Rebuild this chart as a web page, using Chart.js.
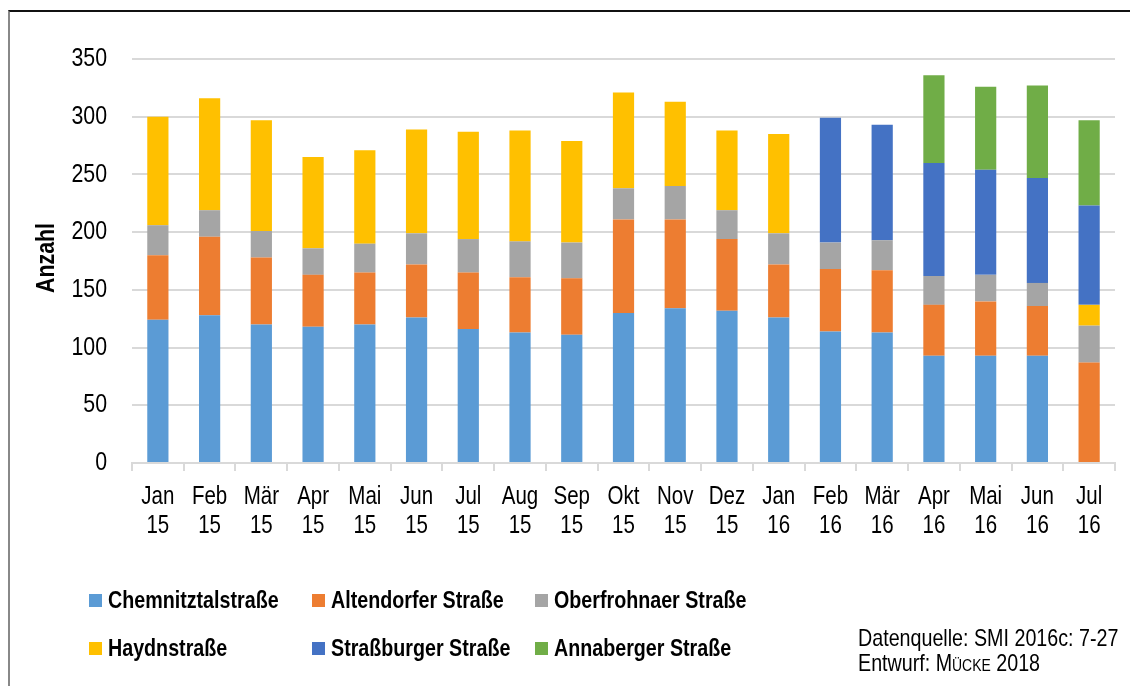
<!DOCTYPE html>
<html>
<head>
<meta charset="utf-8">
<script src="https://cdn.jsdelivr.net/npm/chart.js@4.4.1/dist/chart.umd.min.js"></script>
<style>
  html, body { margin: 0; padding: 0; background: #fff; }
  #wrap { position: relative; width: 1130px; height: 686px; overflow: hidden; font-family: 'Liberation Sans', Arial, sans-serif; }
  #c { position: absolute; left: 0; top: 0; }
  #frame { position: absolute; left: 8px; top: 10px; width: 1130px; height: 690px; border-top: 2px solid #111; border-left: 2px solid #888; box-sizing: border-box; pointer-events: none; }
  .leg { position: absolute; font-weight: bold; font-size: 24px; color: #000; line-height: 28px; white-space: nowrap; }
  .leg .box { position: absolute; left: 0; top: 8px; width: 13px; height: 13px; }
  .leg .txt { position: absolute; left: 19px; top: 0; transform: scaleX(0.82); transform-origin: 0 50%; }
  .src { position: absolute; left: 858px; font-size: 24px; color: #000; line-height: 25px; white-space: nowrap; transform: scaleX(0.82); transform-origin: 0 50%; }
</style>
</head>
<body>
<div id="wrap">
  <canvas id="c" width="1130" height="686"></canvas>
  <div id="frame"></div>
  <div id="legend"></div>
  <div class="src" style="top:625px">Datenquelle: SMI 2016c: 7-27</div>
  <div class="src" style="top:650px">Entwurf: M<span style="font-variant: small-caps">ücke</span> 2018</div>
</div>
<script>
const months = ['Jan','Feb','Mär','Apr','Mai','Jun','Jul','Aug','Sep','Okt','Nov','Dez','Jan','Feb','Mär','Apr','Mai','Jun','Jul'];
const years  = ['15','15','15','15','15','15','15','15','15','15','15','15','16','16','16','16','16','16','16'];

const chemnitztal  = [124,128,120,118,120,126,116,113,111,130,134,132,126,114,113,93,93,93,null];
const altendorfer  = [56,68,58,45,45,46,49,48,49,81,77,62,46,54,54,44,47,43,87];
const oberfrohnaer = [26,23,23,23,25,27,29,31,31,27,29,25,27,23,26,25,23,20,32];
const haydn        = [94,97,96,79,81,90,93,96,88,83,73,69,86,null,null,null,null,null,18];
const strassburger = [null,null,null,null,null,null,null,null,null,null,null,null,null,108,100,98,91,91,86];
const annaberger   = [null,null,null,null,null,null,null,null,null,null,null,null,null,null,null,76,72,80,74];

const seriesNames  = ['Chemnitztalstraße','Altendorfer Straße','Oberfrohnaer Straße','Haydnstraße','Straßburger Straße','Annaberger Straße'];
const seriesColors = ['#5B9BD5','#ED7D31','#A5A5A5','#FFC000','#4472C4','#70AD47'];
const seriesData   = [chemnitztal, altendorfer, oberfrohnaer, haydn, strassburger, annaberger];

const yTicks = [0,50,100,150,200,250,300,350];
const yTitle = 'Anzahl';

const FONT = "'Liberation Sans', Arial, sans-serif";
const NARROW = 0.82;
const labels = months.map((m, i) => [m, years[i]]);

const datasets = seriesNames.map((n, i) => ({
  label: n,
  data: seriesData[i],
  backgroundColor: seriesColors[i],
  borderWidth: 0,
  barPercentage: 0.41,
  categoryPercentage: 1.0
}));

// Draws axis texts in a condensed (Arial-Narrow-like) style using the chart's own scales
const narrowText = {
  id: 'narrowText',
  afterDraw(chart) {
    const ctx = chart.ctx;
    const xs = chart.scales.x, ys = chart.scales.y;
    ctx.save();
    ctx.fillStyle = '#000';
    // x labels
    ctx.font = '25px ' + FONT;
    ctx.textAlign = 'center';
    ctx.textBaseline = 'middle';
    const xl = xs.getLabels();
    xs.ticks.forEach((t, i) => {
      const x = xs.getPixelForTick(i);
      const lines = xl[t.value];
      lines.forEach((ln, k) => {
        ctx.save();
        ctx.translate(x, xs.top + 34 + k * 29);
        ctx.scale(NARROW, 1);
        ctx.fillText(ln, 0, 0);
        ctx.restore();
      });
    });
    // y labels
    ctx.font = '26px ' + FONT;
    ctx.textAlign = 'right';
    ys.ticks.forEach(t => {
      const y = ys.getPixelForValue(t.value);
      ctx.save();
      ctx.translate(ys.right - 25, y);
      ctx.scale(NARROW, 1);
      ctx.fillText(String(t.value), 0, 0);
      ctx.restore();
    });
    // y title
    ctx.font = 'bold 26px ' + FONT;
    ctx.textAlign = 'center';
    ctx.save();
    ctx.translate(47, (ys.top + ys.bottom) / 2 - 3);
    ctx.rotate(-Math.PI / 2);
    ctx.scale(NARROW, 1);
    ctx.fillText(yTitle, 0, 0);
    ctx.restore();
    ctx.restore();
  }
};

new Chart(document.getElementById('c'), {
  type: 'bar',
  data: { labels, datasets },
  plugins: [narrowText],
  options: {
    responsive: false,
    animation: false,
    devicePixelRatio: 1,
    layout: { padding: { left: 0, right: 15, top: 59, bottom: 133 } },
    plugins: { legend: { display: false }, tooltip: { enabled: false } },
    scales: {
      x: {
        stacked: true,
        offset: true,
        grid: { display: true, drawOnChartArea: false, drawTicks: true, tickLength: 8, color: '#d9d9d9', lineWidth: 2, offset: true },
        border: { display: true, color: '#d9d9d9', width: 2 },
        ticks: { display: false, autoSkip: false },
        afterFit: s => { s.height = 90; }
      },
      y: {
        stacked: true,
        min: 0, max: 350,
        afterBuildTicks: s => { s.ticks = yTicks.map(v => ({ value: v })); },
        grid: { color: '#d9d9d9', lineWidth: 2, drawTicks: false },
        border: { display: false },
        ticks: { display: false },
        title: { display: false },
        afterFit: s => { s.width = 132; }
      }
    }
  }
});

// HTML legend built from series names/colors
const legPos = [[89,586],[312,586],[535,586],[89,634],[312,634],[535,634]];
const legend = document.getElementById('legend');
seriesNames.forEach((n, i) => {
  const d = document.createElement('div');
  d.className = 'leg';
  d.style.left = legPos[i][0] + 'px';
  d.style.top = legPos[i][1] + 'px';
  d.innerHTML = '<span class="box" style="background:' + seriesColors[i] + '"></span><span class="txt">' + n + '</span>';
  legend.appendChild(d);
});
</script>
</body>
</html>
